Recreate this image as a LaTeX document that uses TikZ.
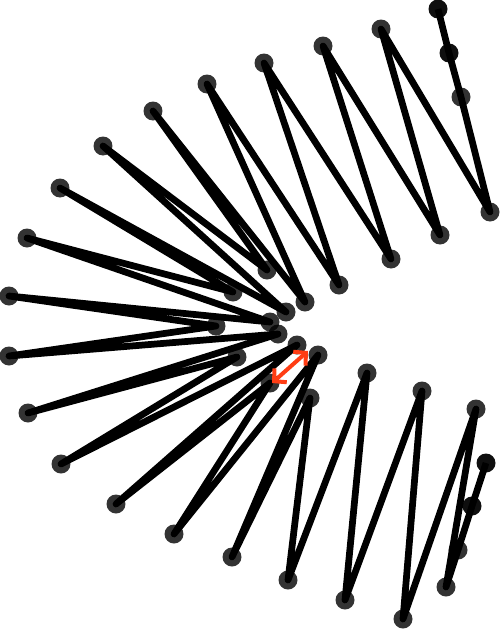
\documentclass[tikz,border=0pt]{standalone}
\usetikzlibrary{arrows.meta}
\definecolor{gapred}{RGB}{255,61,20}

\begin{document}
\begin{tikzpicture}[
  x=0.02cm, y=-0.02cm,
  link/.style={line width=0.135cm, line join=round},
  bead/.style={fill=black, fill opacity=0.8},
  endbead/.style={fill=black, fill opacity=0.94},
  gap/.style={gapred, line width=0.08cm,
    {Straight Barb[length=5pt,width=10.5pt]}-{Straight Barb[length=5pt,width=10.5pt]}}
]
  \useasboundingbox (0,0) rectangle (500,629);
  % tails
  \coordinate (t1) at (438,9);
  \coordinate (t2) at (449,53);
  \coordinate (t3) at (461,97);
  \coordinate (t4) at (490,212);
  \coordinate (b1) at (446,587);
  \coordinate (b2) at (458,550);
  \coordinate (b3) at (472,506);
  \coordinate (b4) at (486,463);
  % outer beads
  \coordinate (o1) at (381,29);
  \coordinate (o2) at (323,46);
  \coordinate (o3) at (264,63);
  \coordinate (o4) at (207,84);
  \coordinate (o5) at (153,111);
  \coordinate (o6) at (103,146);
  \coordinate (o7) at (60,188);
  \coordinate (o8) at (27,238);
  \coordinate (o9) at (9,296);
  \coordinate (o10) at (9,356);
  \coordinate (o11) at (28,413);
  \coordinate (o12) at (61,464);
  \coordinate (o13) at (116,504);
  \coordinate (o14) at (174,534);
  \coordinate (o15) at (232,557);
  \coordinate (o16) at (288,580);
  \coordinate (o17) at (345,600);
  \coordinate (o18) at (403,619);
  % inner beads
  \coordinate (i1) at (440,235);
  \coordinate (i2) at (391,259);
  \coordinate (i3) at (339,285);
  \coordinate (i4) at (305,302);
  \coordinate (i5) at (267,270);
  \coordinate (i6) at (286,312);
  \coordinate (i7) at (233,292);
  \coordinate (i8) at (270,322);
  \coordinate (i9) at (216,326);
  \coordinate (i10) at (278,334);
  \coordinate (i11) at (237,357);
  \coordinate (i12) at (297,345);
  \coordinate (i13) at (270,383);
  \coordinate (i14) at (318,355);
  \coordinate (i15) at (310,398);
  \coordinate (i16) at (367,373);
  \coordinate (i17) at (422,391);
  \coordinate (i18) at (476,409);

  \draw[link] (t1) -- (t2) -- (t3) -- (t4)
    \foreach \k in {1,...,18} { -- (o\k) -- (i\k) }
    -- (b1) -- (b2) -- (b3) -- (b4);

  \foreach \k in {1,...,18} {
    \fill[bead] (o\k) circle (0.19cm);
    \fill[bead] (i\k) circle (0.19cm);
  }
  \foreach \b in {t3,t4,b1,b2} \fill[bead] (\b) circle (0.19cm);
  \foreach \b in {t1,t2,b3,b4} \fill[endbead] (\b) circle (0.19cm);

  \coordinate (g1) at (272,383);
  \coordinate (g2) at (308,351);
  \draw[gap] (g1) -- (g2);
\end{tikzpicture}
\end{document}
